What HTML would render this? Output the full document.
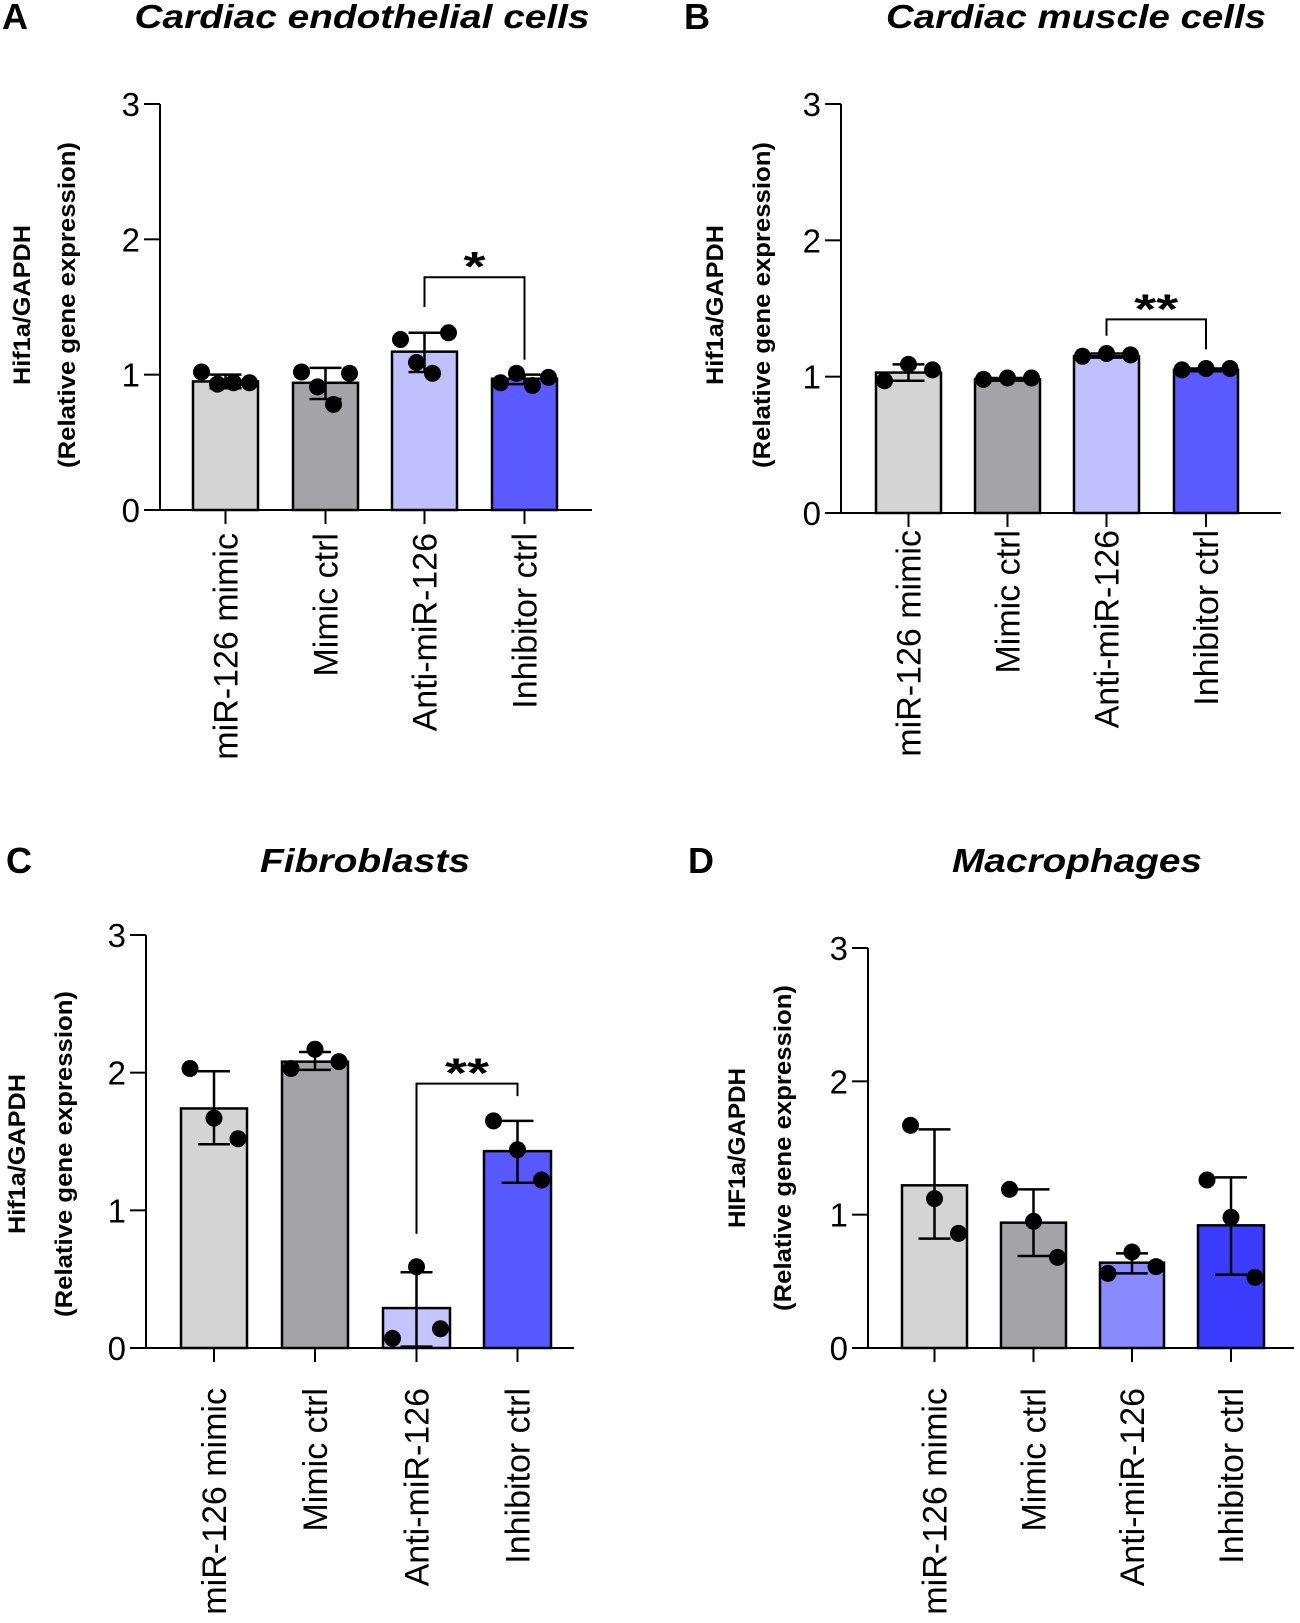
<!DOCTYPE html>
<html><head><meta charset="utf-8"><style>
html,body{margin:0;padding:0;background:#fff;}
svg{display:block;font-family:"Liberation Sans",sans-serif;}
</style></head><body>
<svg id="fig" width="1300" height="1623" viewBox="0 0 1300 1623"></svg>
<script>
const categories = ["miR-126 mimic","Mimic ctrl","Anti-miR-126","Inhibitor ctrl"];
const yTicks = [0,1,2,3];
const meansA = [0.95,0.94,1.17,0.97];
const pointsA = [[1.02,0.93,0.94,0.94],[1.02,0.91,0.78,1.01],[1.26,1.09,1.01,1.31],[0.94,1.01,0.92,0.98]];
const errA = [[0.90,1.00],[0.82,1.05],[1.02,1.31],[0.93,1.00]];
const meansB = [1.03,0.98,1.15,1.05];
const pointsB = [[0.97,1.09,1.05],[0.98,0.99,0.99],[1.15,1.17,1.16],[1.05,1.06,1.06]];
const errB = [[0.97,1.09],[0.97,0.99],[1.14,1.17],[1.04,1.06]];
const meansC = [1.74,2.08,0.29,1.43];
const pointsC = [[2.03,1.67,1.52],[2.03,2.17,2.08],[0.07,0.59,0.14],[1.65,1.44,1.22]];
const errC = [[1.48,2.01],[2.02,2.15],[0.01,0.55],[1.20,1.65]];
const meansD = [1.22,0.94,0.64,0.92];
const pointsD = [[1.67,1.12,0.86],[1.19,0.95,0.68],[0.56,0.72,0.61],[1.26,0.98,0.53]];
const errD = [[0.82,1.64],[0.69,1.19],[0.56,0.71],[0.55,1.28]];

const NS="http://www.w3.org/2000/svg";
const svg=document.getElementById('fig');
function mk(tag,attrs,parent,text){const e=document.createElementNS(NS,tag);for(const k in attrs)e.setAttribute(k,attrs[k]);if(text!==undefined)e.textContent=text;(parent||svg).appendChild(e);return e;}

const panels=[
 {id:'a',letter:'A',title:'Cardiac endothelial cells',titleX:362,titleY:28,titleLen:455,letterX:2,ax:160,y0:510,y3:104,xEnd:592,bars:[[193,258],[293,358],[392,457],[492,557]],
  colors:['#d4d4d4','#a4a4a8','#c0c0ff','#5a5aff'],means:meansA,pts:pointsA,err:errA,ylab:'Hif1a/GAPDH',ylx:[30,75],yly:305,labTop:533,
  sig:{from:2,to:3,top:1.72,l:1.5,r:1.11,text:'*'}},
 {id:'b',letter:'B',title:'Cardiac muscle cells',titleX:1076,titleY:28,titleLen:380,letterX:684,ax:841,y0:513,y3:104,xEnd:1281,bars:[[876,941],[975,1040],[1074,1139],[1174,1238]],
  colors:['#d4d4d4','#a4a4a8','#c0c0ff','#5a5aff'],means:meansB,pts:pointsB,err:errB,ylab:'Hif1a/GAPDH',ylx:[723,770],yly:305,labTop:530,
  sig:{from:2,to:3,top:1.42,l:1.3,r:1.2,text:'**'}},
 {id:'c',letter:'C',title:'Fibroblasts',titleX:365,titleY:872,titleLen:210,letterX:6,ax:146,y0:1348,y3:935,xEnd:574,bars:[[181,247],[282,348],[383,450],[484,551]],
  colors:['#d4d4d4','#a4a4a8','#c4c4ff','#5858ff'],means:meansC,pts:pointsC,err:errC,ylab:'Hif1a/GAPDH',ylx:[25,72],yly:1154,labTop:1388,
  sig:{from:2,to:3,top:1.92,l:0.83,r:1.83,text:'**'}},
 {id:'d',letter:'D',title:'Macrophages',titleX:1077,titleY:872,titleLen:250,letterX:688,ax:868,y0:1348,y3:948,xEnd:1294,bars:[[902,967],[1001,1066],[1100,1164],[1198,1264]],
  colors:['#d4d4d4','#a4a4a8','#8a8aff','#3c3cff'],means:meansD,pts:pointsD,err:errD,ylab:'HIF1a/GAPDH',ylx:[745,791],yly:1148,labTop:1388,sig:null}
];

panels.forEach(p=>{
  const g=mk('g',{});
  
  
  const y=v=>p.y0+(p.y3-p.y0)*v/3;
  const L=mk('text',{x:p.letterX,y:p.titleY+1,'font-size':36,'font-weight':'bold',fill:'#000'},g,p.letter);
  
  
  const T=mk('text',{x:p.titleX,y:p.titleY,'font-size':33,'font-weight':'bold','font-style':'italic','text-anchor':'middle',textLength:p.titleLen,lengthAdjust:'spacingAndGlyphs'},g,p.title);
  
  
  const yl1=mk('text',{transform:`translate(${p.ylx[0]},${p.yly}) rotate(-90)`,'font-size':24,'font-weight':'bold','text-anchor':'middle',textLength:160,lengthAdjust:'spacingAndGlyphs'},g,p.ylab);
  
  
  const yl2=mk('text',{transform:`translate(${p.ylx[1]},${p.yly}) rotate(-90)`,'font-size':24,'font-weight':'bold','text-anchor':'middle',textLength:326,lengthAdjust:'spacingAndGlyphs'},g,'(Relative gene expression)');
  
  
  const ya=mk('line',{x1:p.ax,y1:y(3),x2:p.ax,y2:p.y0,stroke:'#000','stroke-width':2},g);
  
  
  yTicks.forEach(t=>{
    const tl=mk('line',{x1:p.ax-16,y1:y(t),x2:p.ax,y2:y(t),stroke:'#000','stroke-width':2},g);
    
    
    const tt=mk('text',{x:p.ax-20,y:y(t)+12,'font-size':33,'text-anchor':'end'},g,String(t));
    
    
  });
  categories.forEach((c,i)=>{
    const [x1,x2]=p.bars[i];const cx=(x1+x2)/2;
    const r=mk('rect',{x:x1,y:y(p.means[i]),width:x2-x1,height:p.y0-y(p.means[i]),fill:p.colors[i],stroke:'#000','stroke-width':2.5},g);
    
    
    const tk=mk('line',{x1:cx,y1:p.y0,x2:cx,y2:p.y0+14,stroke:'#000','stroke-width':2},g);
    
    
    const lb=mk('text',{transform:`translate(${cx+12},${p.labTop}) rotate(-90)`,'font-size':34,'text-anchor':'end'},g,c);
    
    
    const [lo,hi]=p.err[i];
    const ev=mk('line',{x1:cx,y1:y(hi),x2:cx,y2:y(lo),stroke:'#000','stroke-width':2.5},g);
    
    
    [lo,hi].forEach(v=>{
      const cap=mk('line',{x1:cx-16,y1:y(v),x2:cx+16,y2:y(v),stroke:'#000','stroke-width':2.5},g);
      
      
    });
    const pts=p.pts[i];const n=pts.length;
    pts.forEach((v,j)=>{
      const off=n===1?0:(j-(n-1)/2)*(n===4?16:24);
      const d=mk('circle',{cx:cx+off,cy:y(v),r:8.5,fill:'#000'},g);
      
      
    });
  });
  const xa=mk('line',{x1:p.ax-16,y1:p.y0,x2:p.xEnd,y2:p.y0,stroke:'#000','stroke-width':2},g);
  
  
  if(p.sig){
    const s=p.sig;
    const xl=(p.bars[s.from][0]+p.bars[s.from][1])/2, xr=(p.bars[s.to][0]+p.bars[s.to][1])/2;
    const br=mk('polyline',{points:`${xl},${y(s.l)} ${xl},${y(s.top)} ${xr},${y(s.top)} ${xr},${y(s.r)}`,fill:'none',stroke:'#000','stroke-width':2},g);
    
    
    const st=mk('text',{x:(xl+xr)/2,y:y(s.top)+4,'font-size':42,'font-weight':'bold','text-anchor':'middle',textLength:s.text.length*22,lengthAdjust:'spacingAndGlyphs'},g,s.text);
    
    
  }
});
</script>
</body></html>
